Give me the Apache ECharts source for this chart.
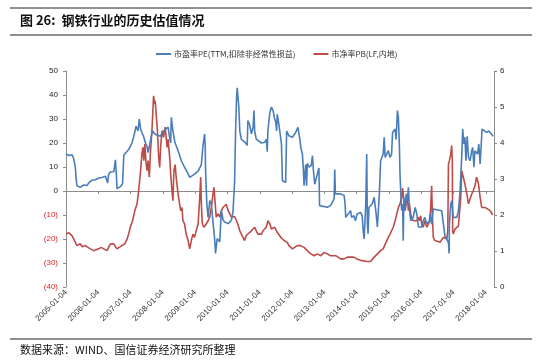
<!DOCTYPE html>
<html>
<head>
<meta charset="utf-8">
<script src="https://cdn.jsdelivr.net/npm/echarts@6/dist/echarts.min.js"></script>
<style>
html,body{margin:0;padding:0;background:#fff;}
#c{width:546px;height:361px;}
</style>
</head>
<body>
<div id="c"></div>
<script>
// Tick labels (x axis: one per year, positioned at 2005-01-04 + n years)
var yearTicks = [2005,2006,2007,2008,2009,2010,2011,2012,2013,2014,2015,2016,2017,2018];
var seriesNames = ['市盈率PE(TTM,扣除非经常性损益)', '市净率PB(LF,内地)'];

// PE (left axis): time in decimal years and values
var peTime = [2005.00,2005.10,2005.19,2005.24,2005.29,2005.31,2005.34,2005.44,2005.55,2005.65,2005.70,2005.80,2005.91,2006.01,2006.11,2006.22,2006.27,2006.29,2006.32,2006.37,2006.48,2006.51,2006.53,2006.56,2006.58,2006.68,2006.75,2006.79,2006.84,2006.94,2006.99,2007.04,2007.10,2007.17,2007.23,2007.27,2007.31,2007.35,2007.40,2007.46,2007.51,2007.54,2007.58,2007.64,2007.68,2007.76,2007.82,2007.92,2008.02,2008.07,2008.16,2008.21,2008.24,2008.26,2008.31,2008.37,2008.47,2008.57,2008.67,2008.78,2008.83,2008.98,2009.09,2009.19,2009.24,2009.29,2009.31,2009.32,2009.36,2009.40,2009.45,2009.50,2009.55,2009.60,2009.63,2009.68,2009.76,2009.81,2009.86,2009.91,2010.02,2010.12,2010.17,2010.22,2010.25,2010.28,2010.30,2010.35,2010.38,2010.43,2010.53,2010.61,2010.63,2010.69,2010.74,2010.79,2010.82,2010.84,2010.89,2011.05,2011.15,2011.20,2011.23,2011.25,2011.31,2011.36,2011.41,2011.46,2011.49,2011.52,2011.54,2011.59,2011.63,2011.67,2011.70,2011.80,2011.83,2011.90,2012.01,2012.11,2012.18,2012.24,2012.27,2012.32,2012.35,2012.37,2012.42,2012.45,2012.47,2012.52,2012.59,2012.63,2012.66,2012.70,2012.78,2012.83,2012.85,2013.09,2013.19,2013.30,2013.32,2013.34,2013.50,2013.61,2013.64,2013.66,2013.71,2013.81,2013.84,2013.91,2013.96,2014.01,2014.07,2014.12,2014.17,2014.20,2014.23,2014.28,2014.31,2014.33,2014.35,2014.38,2014.48,2014.54,2014.59,2014.64,2014.67,2014.70,2014.74,2014.79,2014.82,2014.85,2014.88,2014.98,2015.03,2015.08,2015.11,2015.19,2015.22,2015.26,2015.29,2015.32,2015.34,2015.37,2015.39,2015.42,2015.44,2015.46,2015.50,2015.53,2015.57,2015.60,2015.63,2015.67,2015.75,2015.81,2015.86,2015.91,2016.01,2016.06,2016.11,2016.17,2016.25,2016.27,2016.32,2016.37,2016.63,2016.68,2016.73,2016.79,2016.84,2016.86,2016.87,2016.91,2016.94,2016.99,2017.10,2017.15,2017.20,2017.25,2017.28,2017.32,2017.35,2017.38,2017.42,2017.46,2017.51,2017.56,2017.59,2017.63,2017.66,2017.71,2017.74,2017.78,2017.82,2017.85,2017.88,2017.92,2018.02,2018.04,2018.09,2018.18,2018.22];
var peValues = [15.4,14.8,15.1,13.3,9.9,5.7,2.2,1.5,2.5,2.3,3.3,4.5,4.7,5.4,5.6,6.1,6.3,3.3,7.0,7.9,8.0,7.5,13.0,6.5,1.0,1.8,3.0,15.0,15.5,17.3,18.5,20.0,22.8,27,25,30,25.8,24.4,22.8,20,18.5,16,18.5,22.8,25,23.6,24.4,22.8,25,24.4,26.6,22,20,30.7,25,20.3,16.8,12.6,9.9,7.1,5.7,7.0,8.3,11,18.8,23.7,18.8,9,-5.4,-11,-4,-5.4,-12.9,-19.8,-26,-19.8,-21.2,-8,-12,-12.9,-13.6,-12.2,-8.7,4.2,25,39,43,35,25,21.5,20.5,19,29.4,27.3,23.8,26.5,33.5,25,21.6,20,20.3,21.5,16.4,25,32.7,35,33.5,30,29,25,32,27.8,23.75,19.6,4.3,3.6,25,23,22.4,24.4,26.5,21.5,18,15.3,8.5,2.2,11,2.2,11.5,10,10.6,14.7,8.5,2.8,7,9.6,-6.1,-6.8,-6.1,-3.3,9,-1.2,-1.2,-1.9,-5.4,-11,-11.7,-8.2,-11,-10.3,-12.4,-9.6,-10.3,-8.9,-10.3,-16.5,-20,-5.4,15.4,-13.6,-17.8,-6.8,-5.4,-2.6,-8.2,-15,-15,-1.2,12.6,13.3,15.4,22.4,14,16.8,14,15.4,24.4,25.8,21.5,33.5,30.7,19.6,7.1,-2.6,-8.1,-5.4,-20.7,-2.6,-8.1,-1.2,-4,1.5,-6.8,-12.4,-11,-6.8,-9.6,-15,-15,-12.4,-11,-13.8,-12.4,-9.6,-13.8,-7.5,-8.2,-8.9,-18.6,-19.3,-21.5,-26,-13.6,-5.4,-4,-11,-11,-8.2,0.1,14,25.8,19.6,22.4,12.6,22.8,14,12.6,16.8,18.1,9.9,16.8,17.5,15.4,19.6,11.25,18.1,25.8,25,24.4,23.6,25,23.5,22.8];

// PB (right axis)
var pbTime = [2005.00,2005.08,2005.13,2005.19,2005.24,2005.34,2005.44,2005.50,2005.60,2005.68,2005.75,2005.86,2005.91,2006.01,2006.09,2006.17,2006.27,2006.32,2006.37,2006.42,2006.48,2006.53,2006.58,2006.63,2006.73,2006.82,2006.89,2006.94,2006.99,2007.06,2007.13,2007.20,2007.25,2007.30,2007.35,2007.38,2007.41,2007.44,2007.48,2007.51,2007.54,2007.58,2007.61,2007.66,2007.69,2007.71,2007.75,2007.76,2007.80,2007.83,2007.87,2007.90,2007.93,2007.97,2008.02,2008.07,2008.13,2008.16,2008.21,2008.24,2008.28,2008.31,2008.34,2008.38,2008.41,2008.47,2008.50,2008.55,2008.59,2008.62,2008.67,2008.72,2008.78,2008.83,2008.88,2008.93,2008.98,2009.03,2009.09,2009.14,2009.17,2009.19,2009.22,2009.27,2009.34,2009.40,2009.45,2009.50,2009.55,2009.58,2009.62,2009.65,2009.71,2009.76,2009.81,2009.86,2009.91,2009.96,2010.02,2010.07,2010.12,2010.22,2010.27,2010.32,2010.38,2010.43,2010.48,2010.53,2010.58,2010.63,2010.74,2010.84,2010.89,2010.94,2011.00,2011.05,2011.10,2011.20,2011.25,2011.31,2011.36,2011.46,2011.54,2011.59,2011.65,2011.70,2011.75,2011.85,2011.90,2012.01,2012.06,2012.16,2012.21,2012.26,2012.37,2012.47,2012.58,2012.68,2012.78,2012.89,2012.99,2013.09,2013.19,2013.35,2013.50,2013.61,2013.71,2013.91,2014.01,2014.12,2014.33,2014.43,2014.54,2014.64,2014.74,2014.82,2014.93,2015.03,2015.13,2015.19,2015.24,2015.29,2015.34,2015.39,2015.42,2015.44,2015.46,2015.50,2015.53,2015.57,2015.60,2015.63,2015.67,2015.70,2015.75,2015.81,2015.86,2015.91,2015.94,2015.98,2016.01,2016.06,2016.11,2016.17,2016.22,2016.27,2016.32,2016.34,2016.37,2016.42,2016.48,2016.58,2016.63,2016.68,2016.79,2016.82,2016.84,2016.87,2016.91,2016.94,2016.96,2016.97,2016.99,2017.04,2017.10,2017.15,2017.20,2017.22,2017.25,2017.30,2017.35,2017.41,2017.46,2017.51,2017.56,2017.61,2017.66,2017.71,2017.77,2017.82,2017.87,2017.92,2017.97,2018.02,2018.13,2018.21];
var pbValues = [1.47,1.51,1.56,1.42,1.33,1.15,1.2,1.12,1.15,1.1,1.06,1.01,0.96,1.06,1.10,1.06,1.01,1.06,1.19,1.15,1.2,1.12,1.06,1.1,1.15,1.2,1.33,1.47,1.66,1.84,2.12,2.31,2.68,3.14,3.69,3.88,3.51,3.97,3.42,3.23,3.51,3.05,3.69,4.34,4.9,5.31,5.08,5.17,4.71,4.34,3.6,3.32,3.88,4.34,4.16,4.44,3.88,4.1,3.6,3.14,2.68,2.4,3.23,3.4,3.05,2.58,2.4,2.12,2.21,1.84,1.75,1.47,1.29,1.06,1.29,1.47,1.38,1.56,1.75,2.49,3.05,2.31,1.75,1.66,1.75,1.84,1.94,2.21,2.58,2.77,2.31,1.94,2.03,1.94,2.12,2.21,2.26,2.3,2.12,2.03,1.94,1.96,1.92,1.75,1.56,1.47,1.38,1.29,1.43,1.47,1.56,1.66,1.56,1.47,1.43,1.47,1.56,1.66,1.84,1.75,1.61,1.66,1.52,1.47,1.38,1.33,1.29,1.24,1.15,1.06,1.10,1.15,1.10,1.15,1.10,1.01,0.92,0.87,0.92,0.87,0.96,0.92,0.87,0.87,0.78,0.78,0.83,0.83,0.78,0.74,0.71,0.71,0.83,0.92,1.01,1.06,1.29,1.47,1.66,1.84,2.03,2.21,2.31,2.49,2.75,2.58,2.31,2.12,2.31,2.49,2.12,2.31,2.03,1.94,1.84,1.8,1.84,1.94,1.84,1.98,1.75,1.66,1.84,1.66,1.75,1.84,2.81,2.03,1.38,1.29,1.24,1.24,1.29,1.38,1.33,1.56,3.42,3.51,3.69,3.93,3.51,1.56,1.47,1.61,1.66,1.70,1.75,2.49,3.23,3.05,2.86,2.58,2.31,2.31,2.58,2.68,2.81,3.05,2.86,2.49,2.21,2.26,2.21,2.17,2.12,2.0];

function zip(a, b) { return a.map(function (x, i) { return [x, b[i]]; }); }

var FONT = "'Liberation Sans','Noto Sans CJK SC',sans-serif";
var chart = echarts.init(document.getElementById('c'), null, {renderer: 'canvas'});
chart.setOption({
  animation: false,
  backgroundColor: '#fff',
  textStyle: {fontFamily: FONT},
  graphic: [
    {type: 'line', shape: {x1: 10, y1: 8, x2: 532, y2: 8}, style: {stroke: '#222', lineWidth: 1.2}},
    {type: 'line', shape: {x1: 10, y1: 35, x2: 532, y2: 35}, style: {stroke: '#222', lineWidth: 1.2}},
    {type: 'line', shape: {x1: 10, y1: 339, x2: 532, y2: 339}, style: {stroke: '#222', lineWidth: 1.2}},
    {type: 'text', left: 20, top: 14, style: {text: '图 26:  钢铁行业的历史估值情况', font: "bold 13px 'Noto Sans CJK SC', sans-serif", fill: '#111'}},
    {type: 'text', left: 20, top: 344, style: {text: '数据来源：WIND、国信证券经济研究所整理', font: "11px 'Noto Sans CJK SC', sans-serif", fill: '#111'}}
  ],
  legend: {
    left: 156, top: 50, padding: 0,
    itemWidth: 15, itemHeight: 2, itemGap: 18,
    icon: 'rect',
    textStyle: {fontSize: 8, color: '#333', fontFamily: "'Noto Sans CJK SC',sans-serif", padding: [0, 0, 0, -2]},
    data: seriesNames
  },
  grid: {left: 66, right: 52, top: 71, bottom: 74, containLabel: false},
  xAxis: [
    {
      type: 'value', position: 'bottom', min: 2005, max: 2018.25, interval: 1,
      axisLine: {show: false, onZero: false}, axisTick: {show: false}, splitLine: {show: false},
      axisLabel: {
        rotate: 45, fontSize: 8, color: '#333', margin: 4, showMaxLabel: false,
        formatter: function (v) { return yearTicks.indexOf(v) >= 0 ? v + '-01-04' : ''; }
      }
    },
    {
      type: 'value', position: 'bottom', min: 2005, max: 2018.25, interval: 1,
      axisLine: {show: true, onZero: true, onZeroAxisIndex: 0, lineStyle: {color: '#8c8c8c', width: 1}},
      axisTick: {show: true, length: 3, lineStyle: {color: '#8c8c8c'}},
      axisLabel: {show: false}, splitLine: {show: false}
    }
  ],
  yAxis: [
    {
      type: 'value', min: -40, max: 50, interval: 10, position: 'left',
      axisLine: {show: true, lineStyle: {color: '#8c8c8c'}},
      axisTick: {show: true, length: 3, lineStyle: {color: '#8c8c8c'}},
      splitLine: {show: false},
      axisLabel: {
        fontSize: 8, margin: 8,
        formatter: function (v) { return v < 0 ? '{n|(' + (-v) + ')}' : '{p|' + v + '}'; },
        rich: {n: {color: '#e0252b', fontSize: 8}, p: {color: '#222', fontSize: 8}}
      }
    },
    {
      type: 'value', min: 0, max: 6, interval: 1, position: 'right',
      axisLine: {show: true, lineStyle: {color: '#8c8c8c'}},
      axisTick: {show: true, length: 3, lineStyle: {color: '#8c8c8c'}},
      splitLine: {show: false},
      axisLabel: {fontSize: 8, color: '#222', margin: 6}
    }
  ],
  series: [
    {
      name: seriesNames[0], type: 'line', xAxisIndex: 0, yAxisIndex: 0,
      data: zip(peTime, peValues), showSymbol: false, symbol: 'none',
      lineStyle: {color: '#4a7ebb', width: 1.6}, itemStyle: {color: '#4a7ebb'}, z: 3
    },
    {
      name: seriesNames[1], type: 'line', xAxisIndex: 0, yAxisIndex: 1,
      data: zip(pbTime, pbValues), showSymbol: false, symbol: 'none',
      lineStyle: {color: '#be4b48', width: 1.6}, itemStyle: {color: '#be4b48'}, z: 2
    }
  ]
});
</script>
</body>
</html>
